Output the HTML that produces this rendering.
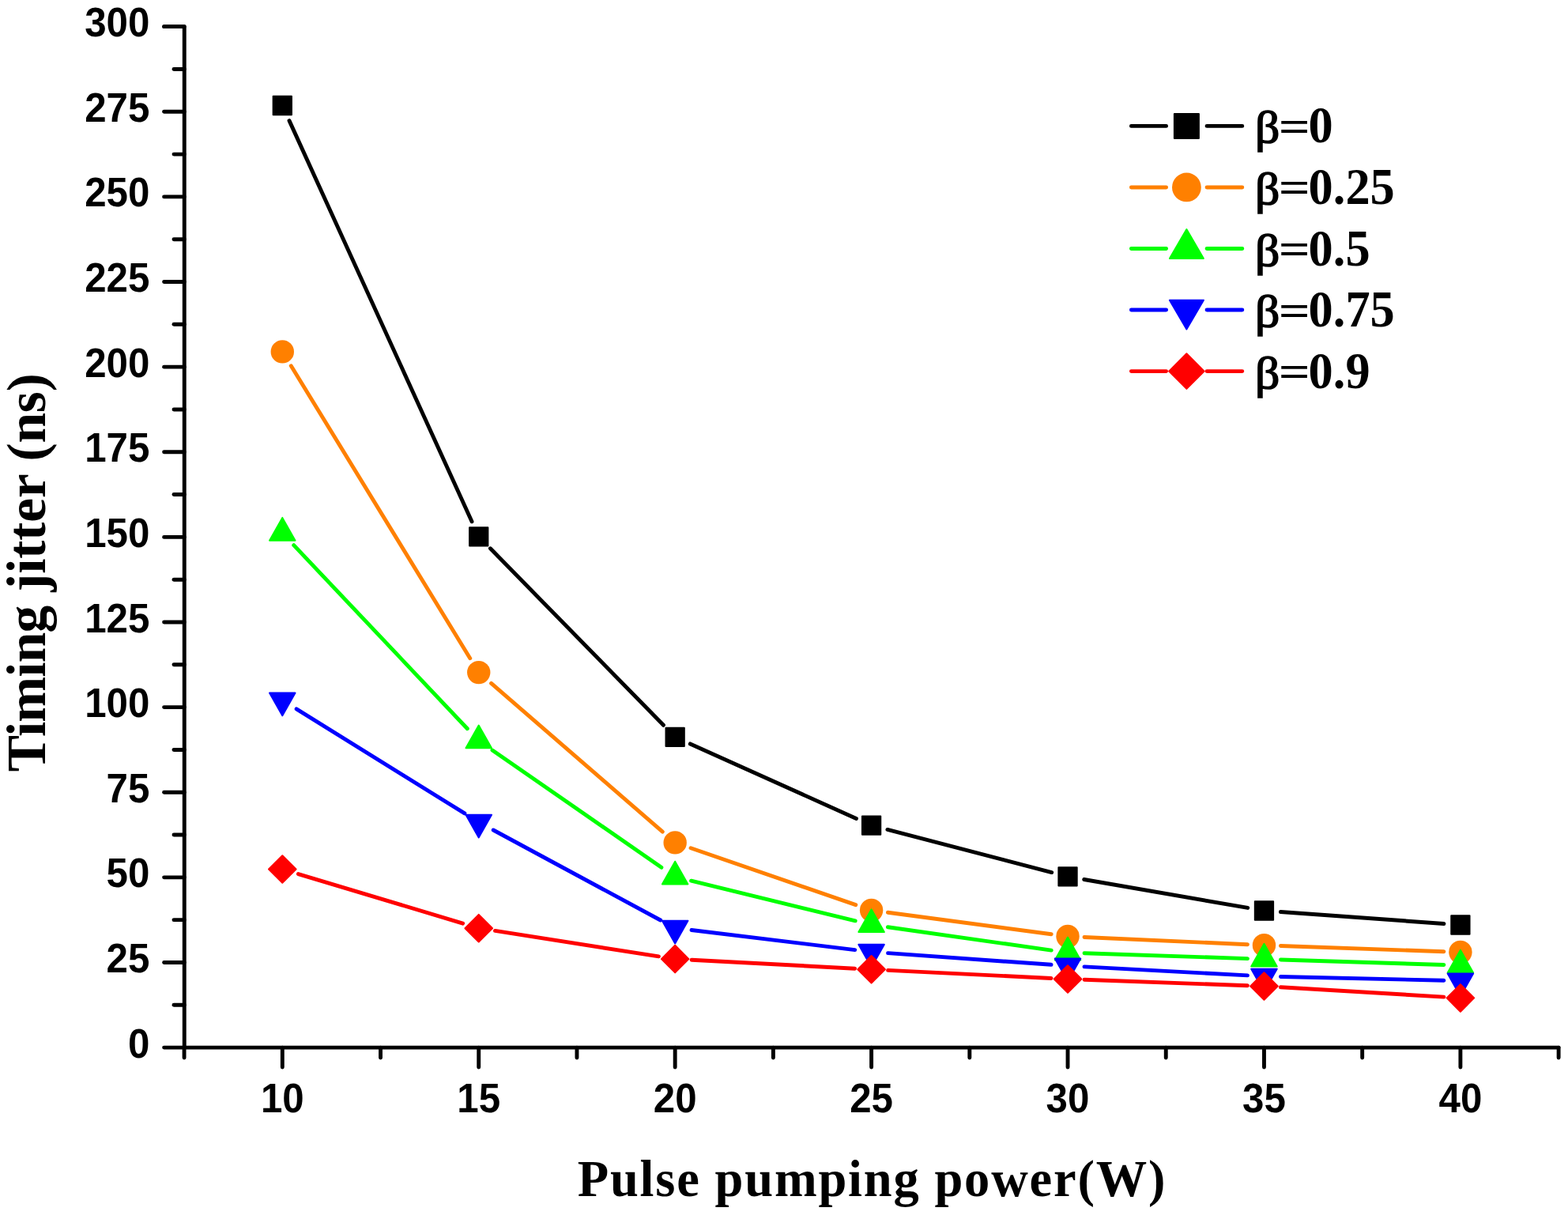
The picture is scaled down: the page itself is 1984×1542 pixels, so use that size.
<!DOCTYPE html>
<html><head><meta charset="utf-8"><title>Timing jitter vs pulse pumping power</title>
<style>html,body{margin:0;padding:0;background:#fff;}svg{display:block;}</style></head>
<body><svg width="1984" height="1542" viewBox="0 0 1984 1542">
<rect width="1984" height="1542" fill="#fff"/>
<g stroke="#000" stroke-width="4.9" stroke-linecap="round" stroke-linejoin="round" fill="none"><path d="M207.6 33.65 L233.25 33.65 L233.25 1325.1" /><path d="M233.25 1325.1 L1972.1 1325.1" /><path d="M207.6 1325.1 H233.25" /><path d="M220 1271.29 H233.25" /><path d="M207.6 1217.48 H233.25" /><path d="M220 1163.67 H233.25" /><path d="M207.6 1109.86 H233.25" /><path d="M220 1056.05 H233.25" /><path d="M207.6 1002.24 H233.25" /><path d="M220 948.43 H233.25" /><path d="M207.6 894.62 H233.25" /><path d="M220 840.81 H233.25" /><path d="M207.6 787 H233.25" /><path d="M220 733.19 H233.25" /><path d="M207.6 679.38 H233.25" /><path d="M220 625.56 H233.25" /><path d="M207.6 571.75 H233.25" /><path d="M220 517.94 H233.25" /><path d="M207.6 464.13 H233.25" /><path d="M220 410.32 H233.25" /><path d="M207.6 356.51 H233.25" /><path d="M220 302.7 H233.25" /><path d="M207.6 248.89 H233.25" /><path d="M220 195.08 H233.25" /><path d="M207.6 141.27 H233.25" /><path d="M220 87.46 H233.25" /><path d="M207.6 33.65 H233.25" /><path d="M233.08 1325.1 V1338.1" /><path d="M357.3 1325.1 V1350.1" /><path d="M481.52 1325.1 V1338.1" /><path d="M605.73 1325.1 V1350.1" /><path d="M729.95 1325.1 V1338.1" /><path d="M854.17 1325.1 V1350.1" /><path d="M978.38 1325.1 V1338.1" /><path d="M1102.6 1325.1 V1350.1" /><path d="M1226.82 1325.1 V1338.1" /><path d="M1351.03 1325.1 V1350.1" /><path d="M1475.25 1325.1 V1338.1" /><path d="M1599.47 1325.1 V1350.1" /><path d="M1723.68 1325.1 V1338.1" /><path d="M1847.9 1325.1 V1350.1" /><path d="M1972.12 1325.1 V1338.1" /></g>
<path d="M366.01 152.61L597.03 659.69M620.43 693.8L839.47 917.3M873.32 940.92L1083.45 1035.48M1122.92 1049.4L1330.71 1103.6M1371.72 1112.49L1578.78 1148.41M1620.41 1153.52L1826.95 1168.48" stroke="#000000" stroke-width="4.9" stroke-linecap="round" fill="none"/>
<rect x="345.65" y="121.85" width="23.3" height="23.3" fill="#000000" stroke="#000000" stroke-width="2.0" stroke-linejoin="round"/><rect x="594.08" y="667.15" width="23.3" height="23.3" fill="#000000" stroke="#000000" stroke-width="2.0" stroke-linejoin="round"/><rect x="842.52" y="920.65" width="23.3" height="23.3" fill="#000000" stroke="#000000" stroke-width="2.0" stroke-linejoin="round"/><rect x="1090.95" y="1032.45" width="23.3" height="23.3" fill="#000000" stroke="#000000" stroke-width="2.0" stroke-linejoin="round"/><rect x="1339.38" y="1097.25" width="23.3" height="23.3" fill="#000000" stroke="#000000" stroke-width="2.0" stroke-linejoin="round"/><rect x="1587.82" y="1140.35" width="23.3" height="23.3" fill="#000000" stroke="#000000" stroke-width="2.0" stroke-linejoin="round"/><rect x="1836.25" y="1158.35" width="23.3" height="23.3" fill="#000000" stroke="#000000" stroke-width="2.0" stroke-linejoin="round"/>
<path d="M368.27 462.81L594.77 832.69M621.6 864.35L838.3 1052.15M874.02 1072.74L1082.75 1144.66M1123.42 1154.27L1330.22 1181.73M1372.01 1185.45L1578.49 1194.75M1620.45 1196.44L1826.91 1203.76" stroke="#FF8000" stroke-width="4.9" stroke-linecap="round" fill="none"/>
<circle cx="357.3" cy="444.9" r="14.7" fill="#FF8000"/><circle cx="605.73" cy="850.6" r="14.7" fill="#FF8000"/><circle cx="854.17" cy="1065.9" r="14.7" fill="#FF8000"/><circle cx="1102.6" cy="1151.5" r="14.7" fill="#FF8000"/><circle cx="1351.03" cy="1184.5" r="14.7" fill="#FF8000"/><circle cx="1599.47" cy="1195.7" r="14.7" fill="#FF8000"/><circle cx="1847.9" cy="1204.5" r="14.7" fill="#FF8000"/>
<path d="M371.73 689.66L591.3 921.74M622.99 948.96L836.91 1097.24M874.57 1114.18L1082.2 1164.82M1123.39 1172.75L1330.24 1202.15M1372.02 1205.79L1578.48 1212.61M1620.46 1213.97L1826.91 1220.53" stroke="#00FF00" stroke-width="4.9" stroke-linecap="round" fill="none"/>
<polygon points="357.3,654.9 373.55,683.7 341.05,683.7" fill="#00FF00" stroke="#00FF00" stroke-width="2.0" stroke-linejoin="round"/><polygon points="605.73,917.5 621.98,946.3 589.48,946.3" fill="#00FF00" stroke="#00FF00" stroke-width="2.0" stroke-linejoin="round"/><polygon points="854.17,1089.7 870.42,1118.5 837.92,1118.5" fill="#00FF00" stroke="#00FF00" stroke-width="2.0" stroke-linejoin="round"/><polygon points="1102.6,1150.3 1118.85,1179.1 1086.35,1179.1" fill="#00FF00" stroke="#00FF00" stroke-width="2.0" stroke-linejoin="round"/><polygon points="1351.03,1185.6 1367.28,1214.4 1334.78,1214.4" fill="#00FF00" stroke="#00FF00" stroke-width="2.0" stroke-linejoin="round"/><polygon points="1599.47,1193.8 1615.72,1222.6 1583.22,1222.6" fill="#00FF00" stroke="#00FF00" stroke-width="2.0" stroke-linejoin="round"/><polygon points="1847.9,1201.7 1864.15,1230.5 1831.65,1230.5" fill="#00FF00" stroke="#00FF00" stroke-width="2.0" stroke-linejoin="round"/>
<path d="M375.14 896.87L587.89 1028.93M624.22 1049.97L835.68 1164.03M875.01 1176.53L1081.75 1201.57M1123.55 1205.59L1330.09 1220.31M1372 1222.91L1578.5 1233.89M1620.46 1235.48L1826.91 1240.22" stroke="#0000FF" stroke-width="4.9" stroke-linecap="round" fill="none"/>
<polygon points="357.3,905.3 373.55,876.5 341.05,876.5" fill="#0000FF" stroke="#0000FF" stroke-width="2.0" stroke-linejoin="round"/><polygon points="605.73,1059.5 621.98,1030.7 589.48,1030.7" fill="#0000FF" stroke="#0000FF" stroke-width="2.0" stroke-linejoin="round"/><polygon points="854.17,1193.5 870.42,1164.7 837.92,1164.7" fill="#0000FF" stroke="#0000FF" stroke-width="2.0" stroke-linejoin="round"/><polygon points="1102.6,1223.6 1118.85,1194.8 1086.35,1194.8" fill="#0000FF" stroke="#0000FF" stroke-width="2.0" stroke-linejoin="round"/><polygon points="1351.03,1241.3 1367.28,1212.5 1334.78,1212.5" fill="#0000FF" stroke="#0000FF" stroke-width="2.0" stroke-linejoin="round"/><polygon points="1599.47,1254.5 1615.72,1225.7 1583.22,1225.7" fill="#0000FF" stroke="#0000FF" stroke-width="2.0" stroke-linejoin="round"/><polygon points="1847.9,1260.2 1864.15,1231.4 1831.65,1231.4" fill="#0000FF" stroke="#0000FF" stroke-width="2.0" stroke-linejoin="round"/>
<path d="M377.41 1105.55L585.62 1168.15M626.48 1177.45L833.42 1209.85M875.14 1214.21L1081.63 1225.19M1123.57 1227.33L1330.06 1237.47M1372.02 1239.26L1578.48 1246.74M1620.43 1248.76L1826.94 1261.14" stroke="#FF0000" stroke-width="4.9" stroke-linecap="round" fill="none"/>
<polygon points="357.3,1082.2 374.6,1099.5 357.3,1116.8 340,1099.5" fill="#FF0000" stroke="#FF0000" stroke-width="2.0" stroke-linejoin="round"/><polygon points="605.73,1156.9 623.03,1174.2 605.73,1191.5 588.43,1174.2" fill="#FF0000" stroke="#FF0000" stroke-width="2.0" stroke-linejoin="round"/><polygon points="854.17,1195.8 871.47,1213.1 854.17,1230.4 836.87,1213.1" fill="#FF0000" stroke="#FF0000" stroke-width="2.0" stroke-linejoin="round"/><polygon points="1102.6,1209 1119.9,1226.3 1102.6,1243.6 1085.3,1226.3" fill="#FF0000" stroke="#FF0000" stroke-width="2.0" stroke-linejoin="round"/><polygon points="1351.03,1221.2 1368.33,1238.5 1351.03,1255.8 1333.73,1238.5" fill="#FF0000" stroke="#FF0000" stroke-width="2.0" stroke-linejoin="round"/><polygon points="1599.47,1230.2 1616.77,1247.5 1599.47,1264.8 1582.17,1247.5" fill="#FF0000" stroke="#FF0000" stroke-width="2.0" stroke-linejoin="round"/><polygon points="1847.9,1245.1 1865.2,1262.4 1847.9,1279.7 1830.6,1262.4" fill="#FF0000" stroke="#FF0000" stroke-width="2.0" stroke-linejoin="round"/>
<g font-family="Liberation Sans, Arial, sans-serif" font-weight="bold" font-size="52" fill="#000"><text transform="translate(189.4 1337.6) scale(0.948 1)" text-anchor="end">0</text><text transform="translate(189.4 1229.98) scale(0.948 1)" text-anchor="end">25</text><text transform="translate(189.4 1122.36) scale(0.948 1)" text-anchor="end">50</text><text transform="translate(189.4 1014.74) scale(0.948 1)" text-anchor="end">75</text><text transform="translate(189.4 907.12) scale(0.948 1)" text-anchor="end">100</text><text transform="translate(189.4 799.5) scale(0.948 1)" text-anchor="end">125</text><text transform="translate(189.4 691.88) scale(0.948 1)" text-anchor="end">150</text><text transform="translate(189.4 584.25) scale(0.948 1)" text-anchor="end">175</text><text transform="translate(189.4 476.63) scale(0.948 1)" text-anchor="end">200</text><text transform="translate(189.4 369.01) scale(0.948 1)" text-anchor="end">225</text><text transform="translate(189.4 261.39) scale(0.948 1)" text-anchor="end">250</text><text transform="translate(189.4 153.77) scale(0.948 1)" text-anchor="end">275</text><text transform="translate(189.4 46.15) scale(0.948 1)" text-anchor="end">300</text><text transform="translate(357.3 1407.2) scale(0.948 1)" text-anchor="middle">10</text><text transform="translate(605.73 1407.2) scale(0.948 1)" text-anchor="middle">15</text><text transform="translate(854.17 1407.2) scale(0.948 1)" text-anchor="middle">20</text><text transform="translate(1102.6 1407.2) scale(0.948 1)" text-anchor="middle">25</text><text transform="translate(1351.03 1407.2) scale(0.948 1)" text-anchor="middle">30</text><text transform="translate(1599.47 1407.2) scale(0.948 1)" text-anchor="middle">35</text><text transform="translate(1847.9 1407.2) scale(0.948 1)" text-anchor="middle">40</text></g>
<text x="730.7" y="1512.5" font-family="Liberation Serif, Times New Roman, serif" font-weight="bold" font-size="64.5" letter-spacing="1.8" fill="#000">Pulse pumping power(W)</text>
<g transform="translate(56.9 0) rotate(-90)" font-family="Liberation Serif, Times New Roman, serif" font-weight="bold" font-size="69.5" fill="#000"><text x="-976.3" y="0" letter-spacing="-0.9">Timing</text><text x="-748.7" y="0" letter-spacing="-0.2">jitter (ns)</text></g>
<g font-family="Liberation Serif, Times New Roman, serif" font-weight="bold" fill="#000"><path d="M1431.4 159.4H1475.6M1527.1 159.4H1571.8" stroke="#000000" stroke-width="4.9" stroke-linecap="round"/><rect x="1485.9" y="143.9" width="31" height="31" fill="#000000" stroke="#000000" stroke-width="2.0" stroke-linejoin="round"/><text transform="translate(1588.0 180.4) scale(1.1 1)" font-size="56" font-weight="normal" stroke="#000" stroke-width="1.5">β</text><text transform="translate(1617.8 180.4) scale(1.1 0.85)" x="0" y="-3" font-size="64">=</text><text transform="translate(1655.6 180.4) scale(0.96 1)" font-size="65">0</text><path d="M1431.4 236.95H1475.6M1527.1 236.95H1571.8" stroke="#FF8000" stroke-width="4.9" stroke-linecap="round"/><circle cx="1501.4" cy="236.95" r="18.4" fill="#FF8000"/><text transform="translate(1588.0 257.95) scale(1.1 1)" font-size="56" font-weight="normal" stroke="#000" stroke-width="1.5">β</text><text transform="translate(1617.8 257.95) scale(1.1 0.85)" x="0" y="-3" font-size="64">=</text><text transform="translate(1655.6 257.95) scale(0.96 1)" font-size="65">0.25</text><path d="M1431.4 314.5H1475.6M1527.1 314.5H1571.8" stroke="#00FF00" stroke-width="4.9" stroke-linecap="round"/><polygon points="1501.4,290 1522.9,326.9 1479.9,326.9" fill="#00FF00" stroke="#00FF00" stroke-width="2.0" stroke-linejoin="round"/><text transform="translate(1588.0 335.5) scale(1.1 1)" font-size="56" font-weight="normal" stroke="#000" stroke-width="1.5">β</text><text transform="translate(1617.8 335.5) scale(1.1 0.85)" x="0" y="-3" font-size="64">=</text><text transform="translate(1655.6 335.5) scale(0.96 1)" font-size="65">0.5</text><path d="M1431.4 392.05H1475.6M1527.1 392.05H1571.8" stroke="#0000FF" stroke-width="4.9" stroke-linecap="round"/><polygon points="1501.4,416.55 1522.9,379.65 1479.9,379.65" fill="#0000FF" stroke="#0000FF" stroke-width="2.0" stroke-linejoin="round"/><text transform="translate(1588.0 413.05) scale(1.1 1)" font-size="56" font-weight="normal" stroke="#000" stroke-width="1.5">β</text><text transform="translate(1617.8 413.05) scale(1.1 0.85)" x="0" y="-3" font-size="64">=</text><text transform="translate(1655.6 413.05) scale(0.96 1)" font-size="65">0.75</text><path d="M1431.4 469.6H1475.6M1527.1 469.6H1571.8" stroke="#FF0000" stroke-width="4.9" stroke-linecap="round"/><polygon points="1501.4,447.3 1523.7,469.6 1501.4,491.9 1479.1,469.6" fill="#FF0000" stroke="#FF0000" stroke-width="2.0" stroke-linejoin="round"/><text transform="translate(1588.0 490.6) scale(1.1 1)" font-size="56" font-weight="normal" stroke="#000" stroke-width="1.5">β</text><text transform="translate(1617.8 490.6) scale(1.1 0.85)" x="0" y="-3" font-size="64">=</text><text transform="translate(1655.6 490.6) scale(0.96 1)" font-size="65">0.9</text></g>
</svg></body></html>
